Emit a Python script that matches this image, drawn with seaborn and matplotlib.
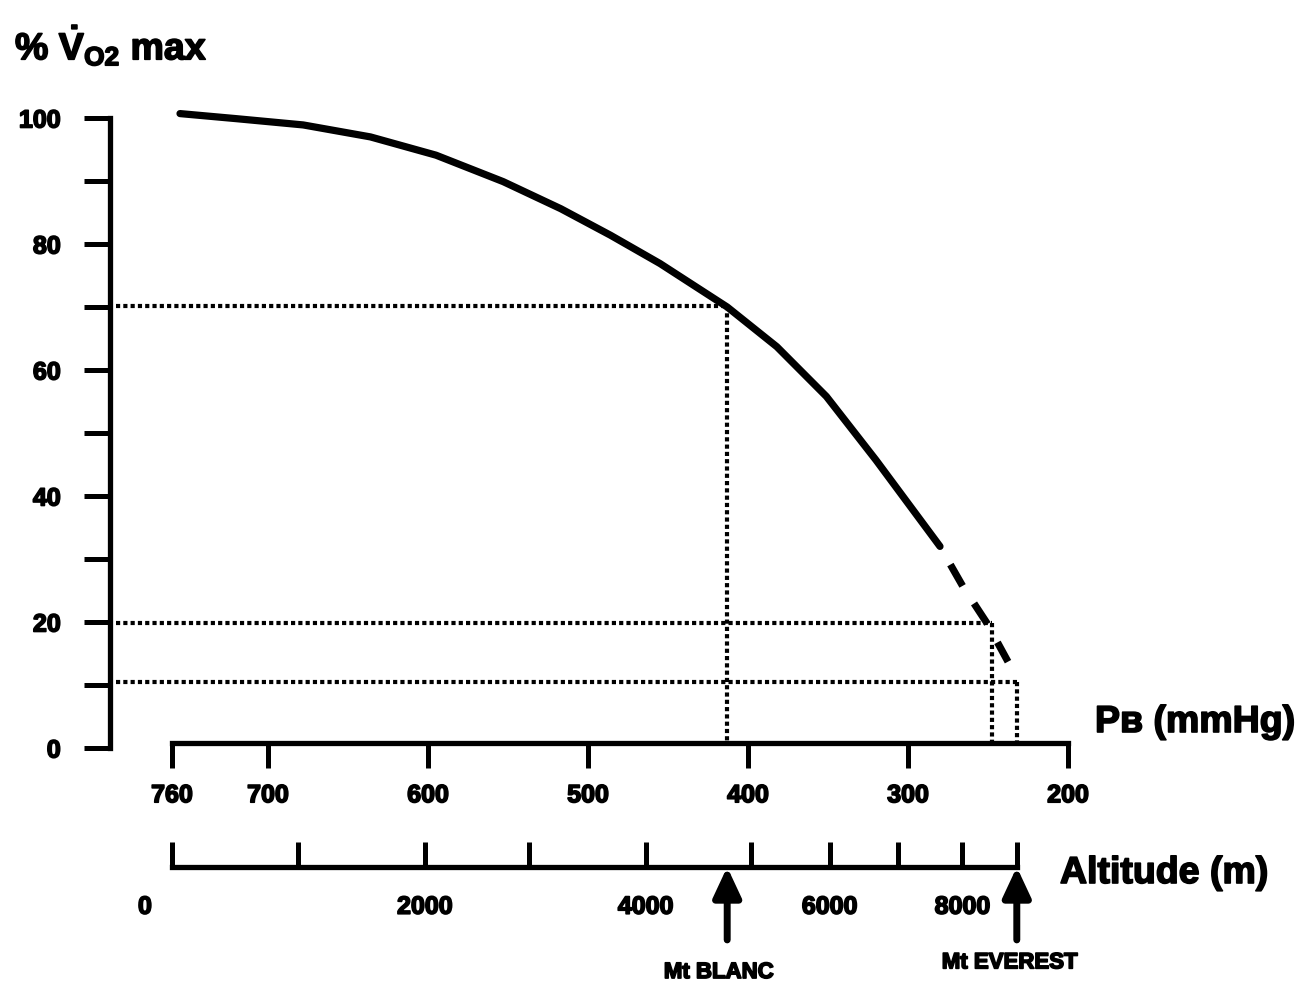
import matplotlib
matplotlib.use("Agg")
import matplotlib.pyplot as plt
import matplotlib.transforms as mtransforms
import matplotlib.patheffects as pe
import seaborn as sns

# Maximal oxygen uptake (% of sea-level value) against barometric pressure
pb_solid = [755, 720, 678, 636, 595, 553, 517, 486, 455, 413, 382, 351, 320, 280]
vo2_solid = [100.7, 99.9, 98.9, 97.0, 94.1, 89.9, 85.6, 81.4, 76.9, 70.0, 63.7, 55.8, 45.7, 32.0]
pb_extrap = [280, 265.6, 250.6, 237.5]
vo2_extrap = [32.0, 25.6, 19.8, 13.7]

# Guide readings (dotted)
ref_pb = [413, 247.5, 232]
ref_vo2 = [70.2, 19.8, 10.5]

pb_ticks = [760, 700, 600, 500, 400, 300, 200]
vo2_ticks = [0, 20, 40, 60, 80, 100]
vo2_minor = [10, 30, 50, 70, 90]

# Altitude scale: altitude (m) and the matching barometric pressure (mmHg)
altitude_m = [0, 1000, 2000, 3000, 4000, 5000, 6000, 7000, 8000, 9000]
altitude_pb = [760, 681, 602, 537, 464, 398, 349, 306, 266, 232]
altitude_labelled = [0, 2000, 4000, 6000, 8000]

summits = ["Mt BLANC", "Mt EVEREST"]
summit_pb = [413, 232]

sns.set_theme(style="white")
plt.rcParams["font.family"] = ["Liberation Sans", "DejaVu Sans"]
plt.rcParams["font.weight"] = "bold"
plt.rcParams["mathtext.fontset"] = "custom"
plt.rcParams["mathtext.rm"] = "Liberation Sans:bold"
plt.rcParams["mathtext.it"] = "Liberation Sans:bold"
plt.rcParams["mathtext.bf"] = "Liberation Sans:bold"
for key in ["text.color", "axes.labelcolor", "xtick.color", "ytick.color", "axes.edgecolor"]:
    plt.rcParams[key] = "black"

INK = "black"
SPINE_W = 3.8
TICK_W = 3.6
heavy = [pe.withStroke(linewidth=1.2, foreground=INK)]

fig = plt.figure(figsize=(13.15, 9.93), dpi=100)
fig.patch.set_facecolor("white")

XLIM = (798.75, 192.5)
ax = fig.add_axes([0.08365, 0.23721, 0.73764, 0.66299])
ax.set_xlim(*XLIM)
ax.set_ylim(-1.5, 103)
ax.set_facecolor("none")

for side in ["top", "right"]:
    ax.spines[side].set_visible(False)
ax.spines["left"].set_bounds(0, 100)
ax.spines["left"].set_linewidth(SPINE_W)
ax.spines["bottom"].set_position(("data", 0.8))
ax.spines["bottom"].set_bounds(760, 200)
ax.spines["bottom"].set_linewidth(SPINE_W)

ax.set_yticks(vo2_ticks)
ax.set_yticks(vo2_minor, minor=True)
ax.set_yticklabels([str(v) for v in vo2_ticks])
ax.tick_params(axis="y", which="both", left=True, direction="out", length=18.5,
               width=TICK_W, pad=17, labelsize=18, color=INK)
ax.set_xticks(pb_ticks)
ax.set_xticklabels([str(v) for v in pb_ticks])
ax.tick_params(axis="x", which="major", bottom=True, direction="out", length=18,
               width=TICK_W, pad=11, labelsize=18, color=INK)
for lab in ax.get_xticklabels() + ax.get_yticklabels():
    lab.set_fontweight("bold")
    lab.set_path_effects(heavy)

# Dotted guide lines down to the pressure axis
dot_style = dict(color=INK, lw=3.0, linestyle=(0, (1, 0.75)), dash_capstyle="butt")
for p, v in zip(ref_pb, ref_vo2):
    ax.plot([795, p], [v, v], **dot_style)
    ax.plot([p, p], [v, 0.8], **dot_style)

# Measured curve and its dashed extrapolation
sns.lineplot(x=pb_solid, y=vo2_solid, ax=ax, color=INK, lw=5.2, sort=False,
             estimator=None, solid_capstyle="round", solid_joinstyle="round")
ax.plot(pb_extrap, vo2_extrap, color=INK, lw=5.2,
        linestyle=(3.4, (3.4, 2.9)), dash_capstyle="butt")

# Altitude scale below the pressure scale
ax_alt = fig.add_axes([0.08365, (993 - 867) / 993, 0.73764, 30 / 993])
ax_alt.set_xlim(*XLIM)
ax_alt.set_facecolor("none")
for side in ["top", "right", "left"]:
    ax_alt.spines[side].set_visible(False)
ax_alt.spines["bottom"].set_bounds(altitude_pb[0], altitude_pb[-1])
ax_alt.spines["bottom"].set_linewidth(SPINE_W)
ax_alt.set_yticks([])
ax_alt.set_xticks(altitude_pb)
ax_alt.set_xticklabels([])
ax_alt.tick_params(axis="x", bottom=True, direction="in", length=18, width=TICK_W,
                   color=INK)

blend = mtransforms.blended_transform_factory(ax_alt.transData, ax_alt.transAxes)
for p, alt in zip(altitude_pb, altitude_m):
    if alt in altitude_labelled:
        dx = -19.5 if alt == 0 else 0
        t = ax_alt.annotate(str(alt), xy=(p, 0), xycoords=blend, xytext=(dx, -20),
                            textcoords="offset points", ha="center", va="top",
                            fontsize=18, fontweight="bold")
        t.set_path_effects(heavy)

# Summit markers
label_offsets = [(-6, -76), (-5, -69)]
for name, p, off in zip(summits, summit_pb, label_offsets):
    ax_alt.annotate("", xy=(p, 0), xycoords=blend, xytext=(0, -52.5),
                    textcoords="offset points",
                    arrowprops=dict(arrowstyle="-|>,head_length=0.9,head_width=0.42",
                                    lw=5, color=INK, shrinkA=0, shrinkB=0,
                                    mutation_scale=20))
    t = ax_alt.annotate(name, xy=(p, 0), xycoords=blend, xytext=off,
                        textcoords="offset points", ha="center", va="center",
                        fontsize=16, fontweight="bold")
    t.set_path_effects(heavy)

# Axis titles
titles = [
    (15, 45, r"% $\dot{V}_{O2}$ max"),
    (1095, 722, "P\u0299 (mmHg)"),
    (1060, 873, "Altitude (m)"),
]
for px, py, s in titles:
    t = fig.text(px / 1315, 1 - py / 993, s, fontsize=27, fontweight="bold",
                 ha="left", va="center", family=["Liberation Sans", "DejaVu Sans"])
    t.set_path_effects(heavy)

fig.savefig("out.png", dpi=100, facecolor="white")
